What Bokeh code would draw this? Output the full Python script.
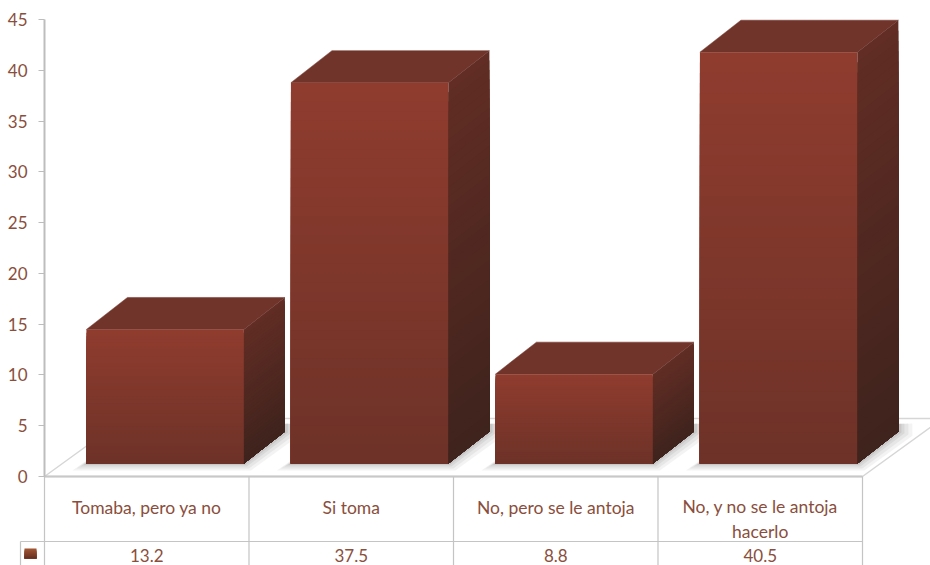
from bokeh.plotting import figure
from bokeh.embed import file_html
from bokeh.resources import INLINE
from bokeh.core.properties import value
from bokeh.models import FixedTicker

categories = ["Tomaba, pero ya no", "Si toma", "No, pero se le antoja", "No, y no se le antoja\nhacerlo"]
values = [13.2, 37.5, 8.8, 40.5]
y_ticks = [0, 5, 10, 15, 20, 25, 30, 35, 40, 45]

FONT = "Lato"
TEXT = "#8a4e3c"
GRID = "#c4c4c4"
CAT_PX = 204.5      # pixels per category
VAL_PX = 10.156     # pixels per value unit
W, H = 930, 565
AX_X, AX_Y = 44, 476   # axis origin inside the figure

px = lambda n: n / CAT_PX
py = lambda n: n / VAL_PX
n_cat = len(categories)

p = figure(width=W, height=H, output_backend="svg", toolbar_location=None,
           x_range=(px(-AX_X), px(W - AX_X)), y_range=(py(AX_Y - H), py(AX_Y)),
           min_border=0, min_border_left=0, min_border_right=0,
           min_border_top=0, min_border_bottom=0, outline_line_color=None,
           background_fill_color="white", border_fill_color="white")
p.grid.visible = False
p.xaxis.visible = False

ax = p.yaxis[0]
ax.fixed_location = 0
ax.bounds = (0, 45)
ax.ticker = FixedTicker(ticks=y_ticks)
ax.axis_line_color = "#bdbdbd"
ax.axis_line_width = 2
ax.major_tick_line_color = "#bdbdbd"
ax.major_tick_out = 6
ax.major_tick_in = 0
ax.minor_tick_line_color = None
ax.major_label_text_font = FONT
ax.major_label_text_font_size = "17px"
ax.major_label_text_color = TEXT
ax.major_label_standoff = 11

# floor
p.patch([0, n_cat, n_cat + px(80), px(80)], [0, 0, py(58), py(58)],
        fill_color="white", line_color="#d6d6d6", line_width=1.5)

BAR_L, BAR_W = 0.205, 0.77
BASE = py(13)
DX, DY = px(41), py(32)
SLICES = 40


def mix(a, b, t):
    c = [round(a[i] + (b[i] - a[i]) * t) for i in range(3)]
    return "#%02x%02x%02x" % tuple(c)


FRONT_TOP, FRONT_BOT = (143, 60, 46), (110, 50, 40)
SIDE_TOP, SIDE_BOT = (97, 45, 36), (63, 35, 29)
TOP_FACE = "#70342a"

for i, v in enumerate(values):
    left = i + BAR_L
    right = left + BAR_W
    top = BASE + v
    # soft shadow on the floor
    for grow, alpha in [(14, 0.10), (10, 0.12), (6, 0.16), (3, 0.2)]:
        p.patch([left - px(grow), right + px(grow * 0.5), right + DX + px(grow),
                 right + DX + px(grow), left + DX],
                [BASE - py(grow * 0.5), BASE - py(grow * 0.5), BASE + DY - py(grow * 0.3),
                 BASE + DY + py(8), BASE + DY],
                fill_color="#8c8c8c", fill_alpha=alpha, line_color=None)
    # top face
    p.patch([left, right, right + DX, left + DX], [top, top, top + DY, top + DY],
            fill_color=TOP_FACE, line_color=TOP_FACE, line_width=0.5)
    # shaded front and side, painted from top to base
    h = top - BASE
    for k in range(SLICES):
        t = k / (SLICES - 1)
        y = top - h * k / SLICES
        p.quad(left=left, right=right, top=y, bottom=BASE,
               fill_color=mix(FRONT_TOP, FRONT_BOT, t), line_color=None)
        p.patch([right, right + DX, right + DX, right], [y, y + DY, BASE + DY, BASE],
                fill_color=mix(SIDE_TOP, SIDE_BOT, t), line_color=None)

# data table
bottom = py(AX_Y - H)
row_y = py(476 - 541)
p.segment(x0=[0], y0=[0], x1=[n_cat], y1=[0], line_color="#c8c8c8", line_width=2)
p.segment(x0=[px(-24)], y0=[row_y], x1=[n_cat], y1=[row_y], line_color=GRID, line_width=1.2)
p.segment(x0=list(range(n_cat + 1)), y0=[0] * (n_cat + 1),
          x1=list(range(n_cat + 1)), y1=[bottom] * (n_cat + 1),
          line_color=GRID, line_width=1.2)
p.segment(x0=[px(-24)], y0=[row_y], x1=[px(-24)], y1=[bottom], line_color=GRID, line_width=1.2)

# legend key
key_t, key_b = py(476 - 548), py(476 - 558)
for k in range(8):
    t = k / 7
    p.quad(left=px(-20), right=px(-8), top=key_t + (key_b - key_t) * k / 8, bottom=key_b,
           fill_color=mix((160, 85, 50), (105, 50, 35), t), line_color=None)

for i, c in enumerate(categories):
    lines = c.count("\n")
    p.text(x=[i + 0.5], y=[py(476 - (507 + lines * 11.5))], text=[c],
           text_font=value(FONT), text_font_size="17.5px", text_color=TEXT,
           text_align="center", text_baseline="middle", text_line_height=1.2)
    p.text(x=[i + 0.5], y=[py(476 - 555)], text=["%.1f" % values[i]],
           text_font=value(FONT), text_font_size="17px", text_color=TEXT,
           text_align="center", text_baseline="middle")

open("out.html", "w").write(file_html(p, INLINE))
